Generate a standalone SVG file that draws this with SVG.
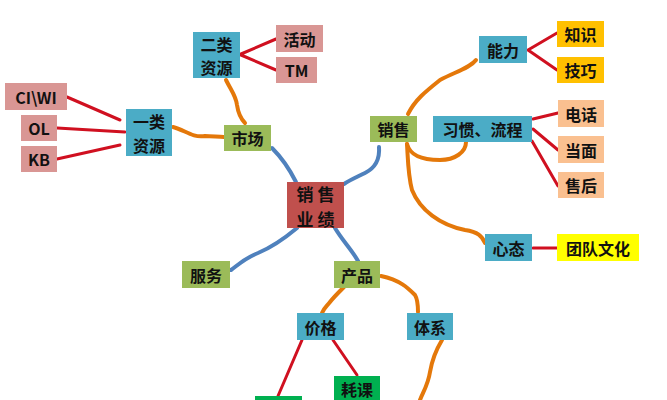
<svg xmlns="http://www.w3.org/2000/svg" width="667" height="400" viewBox="0 0 667 400">
<style>
text{font-family:"Noto Sans CJK SC","Liberation Sans",sans-serif;font-weight:bold;font-size:16px;fill:#111;text-anchor:middle;dominant-baseline:central}
.big{font-size:17px}
.b{fill:#4bacc6}.g{fill:#9bbb59}.p{fill:#d99694}.c{fill:#c0504d}.y{fill:#ffc000}.pe{fill:#fac090}.yy{fill:#ffff00}.gg{fill:#00b050}
.r{stroke:#d01020;stroke-width:3;fill:none;stroke-linecap:round}
.o{stroke:#e4780a;stroke-width:4;fill:none;stroke-linecap:round;stroke-linejoin:round}
.bl{stroke:#4f81bd;stroke-width:4;fill:none;stroke-linecap:round;stroke-linejoin:round}
</style>
<rect width="667" height="400" fill="#fff"/>
<g id="connectors">
<path class="r" d="M241,54 L276,39 M241,55 L276,70"/>
<path class="r" d="M67,97 L120,120 M57,128 L125,132 M57,159 L120,145"/>
<path class="r" d="M528,50 L557,33 M528,50 L557,70"/>
<path class="r" d="M533,119 L558,113 M533,129 L558,150 M532,141 L558,186"/>
<path class="r" d="M533,248 L557,248"/>
<path class="r" d="M302,340 L278,396 M333,340 L357,375"/>
<path class="o" d="M173,127 C185,130 192,138 205,136 C212,136 218,137 224,137"/>
<path class="o" d="M226,80 C232,92 236,96 237,105 C238,112 240,118 245,123"/>
<path class="o" d="M408,114 C415,100 425,92 440,80 C455,72 470,68 476,60"/>
<path class="o" d="M407,144 C410,155 420,160 440,160 C455,160 466,152 466,142"/>
<path class="o" d="M407,144 C408,160 408,175 412,190 C420,210 440,225 465,230 C478,232 482,236 485,243"/>
<path class="o" d="M344,287 C338,293 333,298 330,302 C327,306 324,308 322,313"/>
<path class="o" d="M381,276 C400,280 408,288 415,295 C418,300 418,306 418,312"/>
<path class="o" d="M442,340 C436,350 432,360 430,372 C428,385 423,392 420,400"/>
<path class="bl" d="M272,148 C282,158 290,170 296,182"/>
<path class="bl" d="M379,147 C380,160 375,168 365,173 C355,178 350,180 344,184"/>
<path class="bl" d="M297,228 C285,238 270,248 258,253 C245,258 238,265 231,270"/>
<path class="bl" d="M335,228 C342,240 352,250 358,261"/>
</g>
<g id="n-center"><rect class="c" x="287" y="182" width="57" height="46"/><text class="big"><tspan x="315.5" y="192.5">销  售</tspan><tspan x="315.5" y="217.5">业  绩</tspan></text></g>
<g id="n-shichang"><rect class="g" x="224" y="125" width="47" height="26"/><text x="247.5" y="138">市场</text></g>
<g id="n-yilei"><rect class="b" x="126" y="109" width="46" height="47"/><text><tspan x="149" y="121">一类</tspan><tspan x="149" y="144.5">资源</tspan></text></g>
<g id="n-erlei"><rect class="b" x="193" y="32" width="47" height="46"/><text><tspan x="216.5" y="43.5">二类</tspan><tspan x="216.5" y="67">资源</tspan></text></g>
<g id="n-huodong"><rect class="p" x="276" y="25" width="47" height="27"/><text x="299.5" y="38.5">活动</text></g>
<g id="n-tm"><rect class="p" x="276" y="57" width="41" height="26"/><text x="296.5" y="70">TM</text></g>
<g id="n-ciwi"><rect class="p" x="5" y="83" width="62" height="27"/><text x="36" y="96.5">CI\WI</text></g>
<g id="n-ol"><rect class="p" x="21" y="115" width="36" height="26"/><text x="39" y="128">OL</text></g>
<g id="n-kb"><rect class="p" x="21" y="146" width="36" height="26"/><text x="39" y="159">KB</text></g>
<g id="n-xiaoshou"><rect class="g" x="370" y="116" width="47" height="26"/><text x="393.5" y="129">销售</text></g>
<g id="n-nengli"><rect class="b" x="479" y="36" width="48" height="27"/><text x="503" y="49.5">能力</text></g>
<g id="n-zhishi"><rect class="y" x="557" y="21" width="47" height="26"/><text x="580.5" y="34">知识</text></g>
<g id="n-jiqiao"><rect class="y" x="557" y="57" width="47" height="26"/><text x="580.5" y="70">技巧</text></g>
<g id="n-xiguan"><rect class="b" x="433" y="116" width="99" height="26"/><text x="482.5" y="129">习惯、流程</text></g>
<g id="n-dianhua"><rect class="pe" x="558" y="100" width="46" height="27"/><text x="581" y="113.5">电话</text></g>
<g id="n-dangmian"><rect class="pe" x="558" y="136" width="46" height="27"/><text x="581" y="149.5">当面</text></g>
<g id="n-shouhou"><rect class="pe" x="558" y="172" width="46" height="26"/><text x="581" y="185">售后</text></g>
<g id="n-xintai"><rect class="b" x="485" y="234" width="47" height="27"/><text x="508.5" y="247.5">心态</text></g>
<g id="n-tuandui"><rect class="yy" x="557" y="234" width="82" height="27"/><text x="598" y="247.5">团队文化</text></g>
<g id="n-fuwu"><rect class="g" x="182" y="261" width="48" height="27"/><text x="206" y="274.5">服务</text></g>
<g id="n-chanpin"><rect class="g" x="334" y="261" width="46" height="27"/><text x="357" y="274.5">产品</text></g>
<g id="n-jiage"><rect class="b" x="297" y="313" width="47" height="27"/><text x="320.5" y="326.5">价格</text></g>
<g id="n-tixi"><rect class="b" x="407" y="313" width="46" height="27"/><text x="430" y="326.5">体系</text></g>
<g id="n-haoke"><rect class="gg" x="334" y="376" width="46" height="27"/><text x="357" y="389">耗课</text></g>
<g id="n-bottom"><rect class="gg" x="255" y="396" width="47" height="10"/></g>
</svg>
